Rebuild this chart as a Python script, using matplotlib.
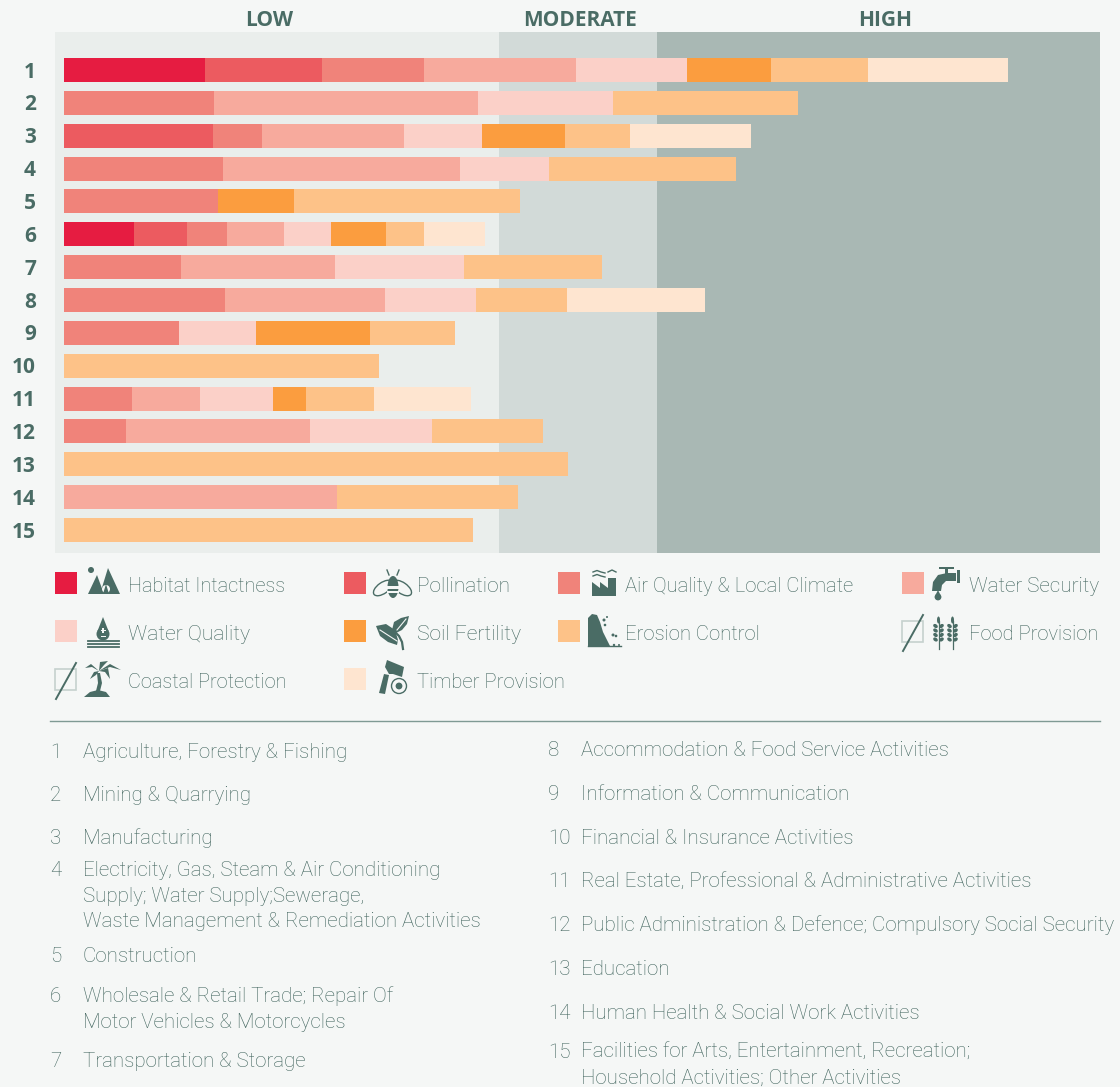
import matplotlib
matplotlib.use("Agg")
import matplotlib.pyplot as plt
from matplotlib.patches import Polygon, Circle, Ellipse, Rectangle

W, H = 1120, 1087

rows = list(range(1, 16))
habitat = [141, 0, 0, 0, 0, 70, 0, 0, 0, 0, 0, 0, 0, 0, 0]
pollination = [117, 0, 149, 0, 0, 53, 0, 0, 0, 0, 0, 0, 0, 0, 0]
air_quality = [102, 150, 49, 159, 154, 40, 117, 161, 115, 0, 68, 62, 0, 0, 0]
water_security = [152, 264, 142, 237, 0, 57, 154, 160, 0, 0, 68, 184, 0, 273, 0]
water_quality = [111, 135, 78, 89, 0, 47, 129, 91, 77, 0, 73, 122, 0, 0, 0]
soil_fertility = [84, 0, 83, 0, 76, 55, 0, 0, 114, 0, 33, 0, 0, 0, 0]
erosion_control = [97, 185, 65, 187, 226, 38, 138, 91, 85, 315, 68, 111, 504, 181, 409]
timber = [140, 0, 121, 0, 0, 61, 0, 138, 0, 0, 97, 0, 0, 0, 0]

series = [habitat, pollination, air_quality, water_security, water_quality,
          soil_fertility, erosion_control, timber]
colors = ["#E61C41", "#EC5B60", "#F0837A", "#F7AA9D", "#FBD0C8",
          "#FB9D3F", "#FDC288", "#FEE5D0"]

zone_names = ["LOW", "MODERATE", "HIGH"]
zone_edges = [-9, 435, 593, 1036]
zone_colors = ["#EAEEEC", "#D2DAD8", "#A9B8B4"]

BG = "#F5F7F6"
DARK = "#4A6C65"
TXT = "#3F635C"

left_list = [("1", ["Agriculture, Forestry & Fishing"], 751),
             ("2", ["Mining & Quarrying"], 794),
             ("3", ["Manufacturing"], 837),
             ("4", ["Electricity, Gas, Steam & Air Conditioning",
                    "Supply; Water Supply;Sewerage,",
                    "Waste Management & Remediation Activities"], 869),
             ("5", ["Construction"], 955),
             ("6", ["Wholesale & Retail Trade; Repair Of",
                    "Motor Vehicles & Motorcycles"], 995),
             ("7", ["Transportation & Storage"], 1060)]
right_list = [("8", ["Accommodation & Food Service Activities"], 749),
              ("9", ["Information & Communication"], 793),
              ("10", ["Financial & Insurance Activities"], 837),
              ("11", ["Real Estate, Professional & Administrative Activities"], 880),
              ("12", ["Public Administration & Defence; Compulsory Social Security"], 924),
              ("13", ["Education"], 968),
              ("14", ["Human Health & Social Work Activities"], 1012),
              ("15", ["Facilities for Arts, Entertainment, Recreation;",
                      "Household Activities; Other Activities"], 1051)]

legend = [("Habitat Intactness", colors[0], 55, 128, 584, 14.3),
          ("Pollination", colors[1], 344, 417, 584, 15.0),
          ("Air Quality & Local Climate", colors[2], 558, 625, 584, 14.6),
          ("Water Security", colors[3], 902, 969, 584, 14.9),
          ("Water Quality", colors[4], 55, 128, 632, 15.2),
          ("Soil Fertility", colors[5], 344, 417, 632, 15.2),
          ("Erosion Control", colors[6], 558, 625, 632, 14.6),
          ("Food Provision", None, 902, 969, 632, 14.5),
          ("Coastal Protection", None, 55, 128, 680, 14.4),
          ("Timber Provision", colors[7], 344, 417, 680, 14.6)]

fig = plt.figure(figsize=(W / 100, H / 100), dpi=100, facecolor=BG)

# chart
ax = fig.add_axes([55 / W, 1 - 553 / H, 1045 / W, 521 / H])
ax.set_facecolor(BG)
ax.set_xlim(zone_edges[0], zone_edges[-1])
ax.set_ylim(15.7, -0.1565)
for i, c in enumerate(zone_colors):
    ax.axvspan(zone_edges[i], zone_edges[i + 1], color=c, lw=0, zorder=0)
left = [0] * 15
for vals, c in zip(series, colors):
    ax.barh(rows, vals, left=left, height=0.73, color=c, lw=0, zorder=2)
    left = [a + b for a, b in zip(left, vals)]
for s in ax.spines.values():
    s.set_visible(False)
ax.set_xticks([])
ax.set_yticks([])
for r in rows:
    ax.annotate(str(r), xy=(0, r), xycoords=ax.get_yaxis_transform(),
                xytext=(-13.7, -1.5), textcoords="offset points",
                ha="right", va="center", family="Open Sans",
                fontweight="bold", fontsize=15, color=DARK, annotation_clip=False)

# overlay in pixels for legend, icons, texts
ov = fig.add_axes([0, 0, 1, 1], facecolor="none")
ov.set_xlim(0, W)
ov.set_ylim(H, 0)
ov.axis("off")

for name, x in zip(zone_names, [269, 580, 885]):
    ov.text(x, 21, name, ha="center", va="center", family="Open Sans",
            fontweight="bold", fontsize=15, color=DARK)

FONT = dict(family="Roboto", fontweight="light", color=TXT, va="center")

for name, c, sx, tx, ty, fs in legend:
    ov.text(tx, ty + 2, name, fontsize=fs, **FONT)
    yy = ty - 12
    if c:
        ov.add_patch(Rectangle((sx, yy), 22, 22, fc=c, lw=0))
    else:
        ov.add_patch(Rectangle((sx, yy + 1), 21, 21, fc="none", ec="#C5D1CE", lw=1.2))
        ov.plot([sx + 21, sx + 1], [yy - 5, yy + 31], color=DARK, lw=1.4)

ov.plot([50, 1100], [721, 721], color="#7F9A94", lw=1)

for items, nx, tx in [(left_list, 50, 83), (right_list, 548, 581)]:
    for num, lines, y in items:
        ov.text(nx, y + 1.5, num, fontsize=14.8, **FONT)
        step = 25.5
        for k, ln in enumerate(lines):
            ov.text(tx, y + 1.5 + k * step, ln, fontsize=14.8, **FONT)

# ---- icons ----
def poly(pts, fc=DARK):
    ov.add_patch(Polygon(pts, closed=True, fc=fc, lw=0))

# habitat
ov.add_patch(Circle((91, 570), 3, fc=DARK, lw=0))
poly([(88, 594), (97, 575), (104, 594)])
poly([(100, 594), (108, 568), (120, 594)])
ov.add_patch(Circle((106, 589), 4, fc=BG, ec=BG, lw=0))
poly([(103, 594), (106, 584), (109, 594)])

# bee
ov.add_patch(Ellipse((383, 588), 22, 11, angle=-35, fc=BG, ec=DARK, lw=1))
ov.add_patch(Ellipse((402, 588), 22, 11, angle=35, fc=BG, ec=DARK, lw=1))
ov.add_patch(Ellipse((393, 587), 11, 22, fc=DARK, lw=0))
ov.add_patch(Rectangle((387, 586), 12, 3, fc=BG, lw=0))
ov.add_patch(Rectangle((387, 591), 12, 2, fc=BG, lw=0))
ov.plot([389, 387], [575, 570], color=DARK, lw=1)
ov.plot([397, 399], [575, 570], color=DARK, lw=1)

# factory
poly([(592, 596), (592, 582), (600, 588), (600, 582), (608, 588), (608, 578), (616, 578), (616, 596)])
for yw in (572, 576):
    ov.plot([593, 597, 601, 605], [yw, yw - 1.5, yw, yw + 1], color=DARK, lw=1)
ov.plot([608, 612, 616], [572, 570, 572], color=DARK, lw=1)

# tap
poly([(932, 591), (933, 582), (938, 575), (947, 573), (956, 573), (956, 581), (946, 581), (942, 585), (941, 591)])
ov.add_patch(Rectangle((939, 567), 15, 2.2, fc=DARK, lw=0))
ov.add_patch(Rectangle((945, 567), 3, 7, fc=DARK, lw=0))
ov.add_patch(Rectangle((957, 570), 2.5, 13, fc=DARK, lw=0))
ov.add_patch(Circle((938, 597), 3.4, fc=DARK, lw=0))
poly([(935.5, 595), (938, 590), (940.5, 595)])

# water drop
ov.add_patch(Circle((103, 634), 6.5, fc=DARK, lw=0))
poly([(97.5, 631), (103, 617), (108.5, 631)])
ov.add_patch(Rectangle((100.5, 630.2), 5, 1.2, fc=BG, lw=0))
ov.add_patch(Rectangle((102.4, 628.2), 1.2, 5, fc=BG, lw=0))
ov.add_patch(Rectangle((100.5, 635.5), 5, 1.2, fc=BG, lw=0))
for yw in (640.5, 644, 647):
    ov.plot([88, 119], [yw, yw], color=DARK, lw=1.3)

# leaf
poly([(376, 626), (386, 624), (395, 630), (398, 640), (397, 645), (388, 642), (380, 636)])
poly([(392, 630), (394, 622), (401, 618), (409, 616), (407, 624), (402, 630), (396, 633)])
ov.plot([394, 399, 402, 403], [631, 636, 642, 649], color=DARK, lw=1.6)
ov.plot([380, 397], [630, 641], color=BG, lw=0.8)
ov.plot([397, 406], [630, 619], color=BG, lw=0.8)

# erosion
poly([(588, 646), (588, 618), (592, 614), (597, 615), (600, 622), (603, 632), (610, 646)])
for px, py, r in [(604, 620, 1.5), (607, 617, 1), (605, 625, 1.3), (613, 635, 1.5), (616, 636, 1.3), (614, 645, 1.2), (619, 645, 1)]:
    ov.add_patch(Circle((px, py), r, fc=DARK, lw=0))
ov.plot([588, 621], [646, 646], color=DARK, lw=1)

# wheat
for cx in (938.5, 952.5):
    ov.plot([cx, cx], [621, 649], color=DARK, lw=0.9)
    ov.add_patch(Ellipse((cx, 620), 3, 7, fc=DARK, lw=0))
    for yy in (626, 630.5, 635, 639.5):
        ov.add_patch(Ellipse((cx - 3, yy), 5, 3.6, angle=35, fc=DARK, lw=0))
        ov.add_patch(Ellipse((cx + 3, yy), 5, 3.6, angle=-35, fc=DARK, lw=0))

# palm
poly([(84, 697), (90, 692), (98, 690), (106, 692), (110, 697)])
poly([(97, 673), (100, 673), (102, 683), (100, 691), (96, 691), (98, 683)])
poly([(99, 671), (91, 664), (85, 668), (92, 667)])
poly([(99, 671), (94, 672), (90, 679), (96, 675)])
poly([(99, 671), (100, 662), (108, 661), (104, 665)])
poly([(99, 671), (108, 668), (110, 679), (105, 672)])
poly([(99, 671), (110, 664), (121, 670), (110, 667)])

# axe
poly([(385, 667), (387, 660), (404, 667), (402, 677), (393, 674), (389, 674)])
poly([(384, 674), (389, 675), (385, 694), (379, 693)])
ov.add_patch(Circle((399, 686), 7.5, fc=BG, ec=DARK, lw=1))
ov.add_patch(Circle((399, 686), 3.4, fc=DARK, lw=0))

fig.savefig("out.png", dpi=100, facecolor=BG)
